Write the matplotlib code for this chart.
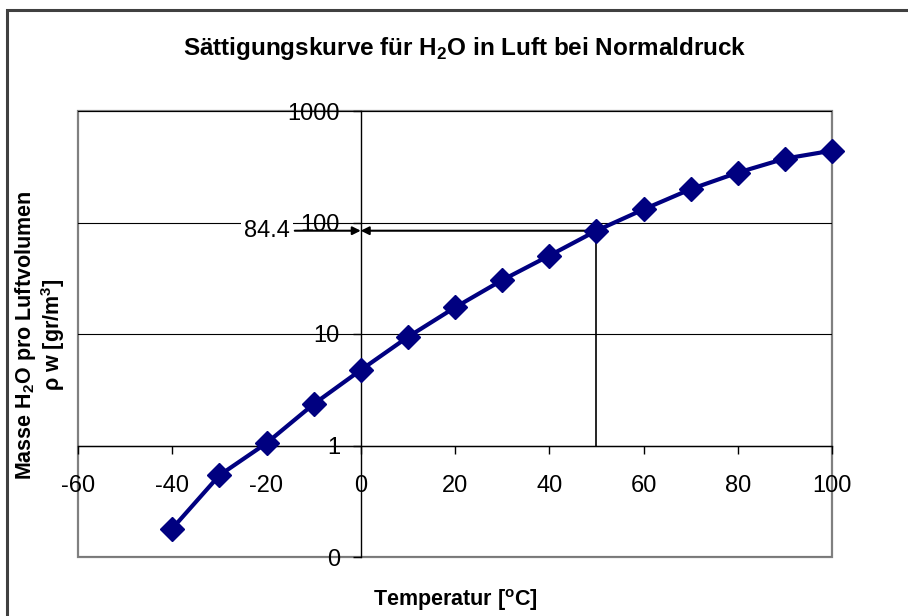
import matplotlib
matplotlib.use("Agg")
import matplotlib.pyplot as plt
from matplotlib.patches import Rectangle

plt.rcParams['font.family'] = ['Liberation Sans', 'DejaVu Sans']
plt.rcParams['mathtext.fontset'] = 'custom'
plt.rcParams['mathtext.rm'] = 'Liberation Sans'
plt.rcParams['mathtext.bf'] = 'Liberation Sans:bold'

# data
temps = [-40, -30, -20, -10, 0, 10, 20, 30, 40, 50, 60, 70, 80, 90, 100]
rho = [0.18, 0.54, 1.05, 2.35, 4.75, 9.4, 17.3, 30.4, 50.4, 84.4, 131, 199, 280, 374, 441]
x_ticks = [-60, -40, -20, 0, 20, 40, 60, 80, 100]
y_ticks = [0.1, 1, 10, 100, 1000]
y_tick_labels = ['0', '1', '10', '100', '1000']
mark_t = 50
mark_rho = 84.4

W, H = 908, 616
fig = plt.figure(figsize=(W / 100, H / 100), dpi=100)
ax = fig.add_axes([78 / W, 59 / H, 754 / W, 446 / H])

ax.set_yscale('log')
ax.set_xlim(-60, 100)
ax.set_ylim(0.1, 1000)

# axes cross at x=0 and y=1 like in Excel
ax.spines['left'].set_position(('data', 0))
ax.spines['bottom'].set_position(('data', 1))
for s in ['top', 'right']:
    ax.spines[s].set_visible(False)
for s in ['left', 'bottom']:
    ax.spines[s].set_color('black')
    ax.spines[s].set_linewidth(1.0)
ax.add_patch(Rectangle((0, 0), 1, 1, transform=ax.transAxes, fill=False,
                       edgecolor='#808080', lw=1.6, clip_on=False, zorder=1))

ax.set_xticks(x_ticks)
ax.set_xticklabels([str(t) for t in x_ticks])
ax.set_yticks(y_ticks)
ax.set_yticklabels(y_tick_labels)
ax.yaxis.set_minor_locator(matplotlib.ticker.NullLocator())
ax.tick_params(axis='x', direction='out', length=6, width=1, pad=15, labelsize=17)
ax.tick_params(axis='y', direction='out', length=6, width=1, pad=9, labelsize=17)

ax.grid(axis='y', color='black', lw=0.8, zorder=0)

ax.plot(temps, rho, color='#000080', lw=3, marker='D', markersize=12,
        markeredgecolor='#000080', zorder=5, clip_on=False)

# reading at 50 °C
ax.vlines(mark_t, 1, mark_rho, color='black', lw=1.2, zorder=3)
ax.annotate('', xy=(0, mark_rho), xytext=(mark_t, mark_rho),
            arrowprops=dict(arrowstyle='-|>', color='black', lw=1.5,
                            shrinkA=0, shrinkB=0, mutation_scale=12), zorder=4)
ax.annotate('', xy=(0, mark_rho), xytext=(-14, mark_rho),
            arrowprops=dict(arrowstyle='-|>', color='black', lw=1.5,
                            shrinkA=0, shrinkB=0, mutation_scale=12), zorder=4)
ax.text(-15, mark_rho, f'{mark_rho}', ha='right', va='center', fontsize=17,
        bbox=dict(facecolor='white', edgecolor='none', pad=2), zorder=4)

fig.text(465 / W, 1 - 48 / H, 'Sättigungskurve für H$_\\mathbf{2}$O in Luft bei Normaldruck',
         ha='center', va='center', fontsize=17.5, fontweight='bold')
fig.text(455 / W, 1 - 600 / H, 'Temperatur [$^\\mathbf{o}$C]',
         ha='center', va='center', fontsize=15.5, fontweight='bold')
fig.text(40 / W, 1 - 335 / H, 'Masse H$_\\mathbf{2}$O pro Luftvolumen\nρ w [gr/m$^\\mathbf{3}$]',
         ha='center', va='center', rotation=90, fontsize=15.5, fontweight='bold',
         multialignment='center', linespacing=1.1)

# outer chart frame
fig.patches.append(Rectangle((7 / W, -0.1), 1.2, 1 - 10 / H + 0.1, transform=fig.transFigure,
                             fill=False, edgecolor='#404040', lw=2.2))

fig.savefig('out.png', dpi=100)
